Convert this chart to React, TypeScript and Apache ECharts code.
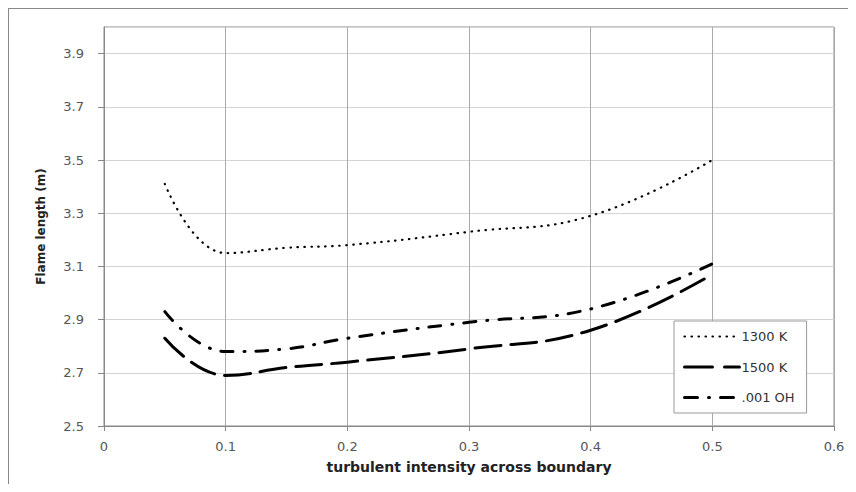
import React, { useEffect, useRef } from "react";
import * as echarts from "echarts";

const xValues = [0.05, 0.1, 0.15, 0.2, 0.3, 0.4, 0.5];
const s1300K = [3.41, 3.15, 3.17, 3.18, 3.23, 3.29, 3.5];
const s1500K = [2.83, 2.69, 2.72, 2.74, 2.79, 2.86, 3.07];
const sOH = [2.93, 2.78, 2.79, 2.83, 2.89, 2.94, 3.11];
const seriesNames = ["1300 K", "1500 K", ".001 OH"];

const FONT = "DejaVu Sans";

export default function App() {
  const ref = useRef<HTMLDivElement>(null);
  useEffect(() => {
    if (!ref.current) return;
    const chart = echarts.init(ref.current, undefined, { renderer: "svg" });
    const pair = (ys: number[]) => xValues.map((x, i) => [x, ys[i]]);
    const styles: any[] = [
      { color: "#000", width: 2.2, type: [0.5, 6.5], cap: "round" },
      { color: "#000", width: 3, type: [26, 10], cap: "round" },
      { color: "#000", width: 3, type: [12, 11, 1, 11], cap: "round" },
    ];
    const legendStyles: any[] = [
      { color: "#000", width: 2.2, type: [0.5, 6.5], cap: "round" },
      { color: "#000", width: 3, type: [28, 12], cap: "round" },
      { color: "#000", width: 3, type: [13, 11, 1, 11], cap: "round" },
    ];
    const mk = (name: string, ys: number[], ls: any) => ({
      name,
      type: "line",
      data: pair(ys),
      smooth: 0.45,
      symbol: "none",
      showSymbol: false,
      lineStyle: ls,
      itemStyle: { color: "#000" },
      z: 3,
    });
    chart.setOption({
      animation: false,
      backgroundColor: "#fff",
      textStyle: { fontFamily: FONT },
      grid: { left: 96, top: 19, right: 22, bottom: 58, show: true, borderColor: "#888", borderWidth: 1 },
      graphic: [
        { type: "line", shape: { x1: 0, y1: 0.5, x2: 848, y2: 0.5 }, style: { stroke: "#888", lineWidth: 1 } },
        { type: "line", shape: { x1: 0.5, y1: 0, x2: 0.5, y2: 476 }, style: { stroke: "#888", lineWidth: 1 } },
      ],
      xAxis: {
        type: "value",
        min: 0,
        max: 0.6,
        interval: 0.1,
        name: "turbulent intensity across boundary",
        nameLocation: "middle",
        nameGap: 34,
        nameTextStyle: { fontFamily: FONT, fontSize: 14, fontWeight: "bold", color: "#222" },
        axisLine: { show: true, lineStyle: { color: "#888", width: 1 } },
        axisTick: { show: true, length: 5, lineStyle: { color: "#888" } },
        axisLabel: {
          margin: 14,
          fontSize: 13,
          color: "#555",
          fontFamily: FONT,
          formatter: (v: number) => (v === 0 ? "0" : v.toFixed(1)),
        },
        splitLine: { show: true, lineStyle: { color: "#aaa", width: 1 } },
      },
      yAxis: {
        type: "value",
        min: 2.5,
        max: 4.0,
        interval: 0.2,
        name: "Flame length (m)",
        nameLocation: "middle",
        nameGap: 57,
        nameRotate: 90,
        nameTextStyle: { fontFamily: FONT, fontSize: 12, fontWeight: "bold", color: "#222" },
        axisLine: { show: true, lineStyle: { color: "#888", width: 1 } },
        axisTick: { show: true, length: 6, lineStyle: { color: "#888" } },
        axisLabel: {
          margin: 20,
          fontSize: 13,
          color: "#555",
          fontFamily: FONT,
          showMaxLabel: false,
          formatter: (v: number) => v.toFixed(1),
        },
        splitLine: { show: true, lineStyle: { color: "#d4d4d4", width: 1 } },
      },
      legend: {
        left: 666,
        top: 313,
        orient: "vertical",
        itemWidth: 55,
        itemHeight: 14,
        itemGap: 17.5,
        padding: [9, 12, 9, 9],
        borderColor: "#999",
        borderWidth: 1,
        backgroundColor: "#fff",
        itemStyle: { opacity: 0 },
        textStyle: { fontFamily: FONT, fontSize: 13, color: "#333", padding: [0, 0, 0, -3] },
        data: seriesNames.map((n, i) => ({ name: n, lineStyle: legendStyles[i], itemStyle: { opacity: 0 } })),
      },
      series: [
        mk(seriesNames[0], s1300K, styles[0]),
        mk(seriesNames[1], s1500K, styles[1]),
        mk(seriesNames[2], sOH, styles[2]),
      ],
    });
    return () => chart.dispose();
  }, []);
  return <div ref={ref} style={{ width: 848, height: 476 }} />;
}
